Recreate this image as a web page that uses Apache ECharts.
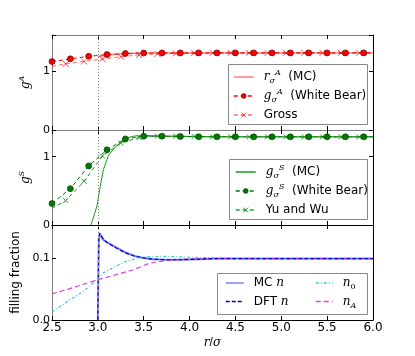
<!DOCTYPE html>
<html>
<head>
<meta charset="utf-8">
<script src="https://cdn.jsdelivr.net/npm/echarts@6/dist/echarts.min.js"></script>
<style>
  html, body { margin: 0; padding: 0; background: #fff; }
  #chart { width: 415px; height: 356px; }
</style>
</head>
<body>
<div id="chart"></div>
<script>
// x positions of the closure curves (markers every 0.2, lines run to 6.0)
const xWB = [2.5, 2.7, 2.9, 3.1, 3.3, 3.5, 3.7, 3.9, 4.1, 4.3, 4.5, 4.7, 4.9, 5.1, 5.3, 5.5, 5.7, 5.9, 6.0]
const xAlt = [2.5, 2.65, 2.85, 3.05, 3.25, 3.45, 3.65, 3.85, 4.05, 4.25, 4.45, 4.65, 4.85, 5.05, 5.25, 5.45, 5.65, 5.85, 6.0]

// panel 1: g^A
const xMC_A = [3.0, 3.05, 3.1, 3.2, 3.3, 3.4, 3.6, 3.8, 4.0, 4.5, 5.0, 5.5, 6.0]
const rA_MC = [1.25, 1.265, 1.278, 1.293, 1.303, 1.31, 1.314, 1.315, 1.315, 1.315, 1.315, 1.315, 1.315]
const gA_WB = [1.166, 1.213, 1.257, 1.286, 1.305, 1.312, 1.315, 1.315, 1.315, 1.315, 1.315, 1.315, 1.315, 1.315, 1.315, 1.315, 1.315, 1.315, 1.315]
const gA_Gross = [1.086, 1.127, 1.17, 1.21, 1.25, 1.28, 1.297, 1.307, 1.312, 1.314, 1.315, 1.315, 1.315, 1.315, 1.315, 1.315, 1.315, 1.315, 1.315]

// panel 2: g^S
const xMC_S = [2.924, 2.95, 2.99, 3.026, 3.06, 3.116, 3.19, 3.3, 3.39, 3.5, 3.7, 4.0, 4.5, 5.0, 5.5, 6.0]
const gS_MC = [0, 0.1, 0.28, 0.565, 0.81, 1.02, 1.14, 1.27, 1.30, 1.31, 1.30, 1.295, 1.29, 1.29, 1.29, 1.29]
const gS_WB = [0.314, 0.532, 0.865, 1.10, 1.26, 1.30, 1.30, 1.295, 1.29, 1.29, 1.29, 1.29, 1.29, 1.29, 1.29, 1.29, 1.29, 1.29, 1.29]
const gS_YW = [0.24, 0.358, 0.64, 1.01, 1.20, 1.28, 1.30, 1.30, 1.295, 1.29, 1.29, 1.29, 1.29, 1.29, 1.29, 1.29, 1.29, 1.29, 1.29]

// panel 3: filling fraction
const xN = [3.0, 3.01, 3.02, 3.06, 3.1, 3.2, 3.3, 3.4, 3.5, 3.6, 3.75, 3.9, 4.1, 4.3, 4.6, 5.0, 5.5, 6.0]
const n_MC = [0, 0.13, 0.139, 0.129, 0.125, 0.117, 0.109, 0.103, 0.100, 0.098, 0.097, 0.097, 0.098, 0.099, 0.099, 0.099, 0.099, 0.099]
const n_DFT = [0, 0.132, 0.14, 0.130, 0.125, 0.116, 0.108, 0.103, 0.100, 0.098, 0.097, 0.097, 0.098, 0.099, 0.099, 0.099, 0.099, 0.099]
const xN0 = [2.5, 2.6, 2.7, 2.81, 2.9, 3.0, 3.06, 3.19, 3.3, 3.42, 3.55, 3.75, 4.0, 4.3, 4.6, 5.0, 6.0]
const n_0 = [0.013, 0.023, 0.033, 0.043, 0.053, 0.067, 0.076, 0.086, 0.094, 0.099, 0.102, 0.1026, 0.101, 0.1, 0.099, 0.099, 0.099]
const xNA = [2.5, 2.75, 3.0, 3.2, 3.39, 3.57, 3.75, 3.97, 4.3, 5.0, 6.0]
const n_A = [0.042, 0.053, 0.065, 0.073, 0.081, 0.092, 0.096, 0.098, 0.099, 0.099, 0.099]

const contactR = 3.0
const yMax = [1.62, 1.39, 0.153]
const yTicks = [1, 1, 0.1]

const font = 'DejaVu Sans'
const gray = '#808080'
const crossPath = 'path://M0,0L10,10M10,0L0,10'

const mathRich = {
  m: { fontFamily: 'DejaVu Serif', fontStyle: 'italic', fontSize: 12, lineHeight: 16 },
  sup: { fontFamily: 'DejaVu Serif', fontStyle: 'italic', fontSize: 8, lineHeight: 8, verticalAlign: 'top' },
  sub: { fontFamily: 'DejaVu Serif', fontStyle: 'italic', fontSize: 8, lineHeight: 8, verticalAlign: 'bottom' },
  subr: { fontFamily: 'DejaVu Serif', fontSize: 8, lineHeight: 8, verticalAlign: 'bottom' }
}

const labels = {
  rA_MC: '{m|r}{sub|σ}{sup|A}  (MC)',
  gA_WB: '{m|g}{sub|σ}{sup|A}  (White Bear)',
  gA_Gross: 'Gross',
  gS_MC: '{m|g}{sub|σ}{sup|S}  (MC)',
  gS_WB: '{m|g}{sub|σ}{sup|S}  (White Bear)',
  gS_YW: 'Yu and Wu',
  n_MC: 'MC {m|n}',
  n_DFT: 'DFT {m|n}',
  n_0: '{m|n}{subr|0}',
  n_A: '{m|n}{sub|A}'
}
// series drawn as plain lines: no marker in their legend icon
const plainLines = ['rA_MC', 'gS_MC', 'n_MC', 'n_DFT', 'n_0', 'n_A']

// turn x/y arrays into points; markers dropped on the listed indices
function pts(xs, ys, noMark) {
  return xs.map((x, i) => noMark && noMark.includes(i) ? { value: [x, ys[i]], symbol: 'none' } : [x, ys[i]])
}

function series(name, g, data, opts) {
  return Object.assign({
    name: name,
    type: 'line',
    xAxisIndex: 2 * g,
    yAxisIndex: 2 * g,
    data: data,
    symbol: 'none',
    animation: false,
    z: 2
  }, opts)
}

const vLine = {
  silent: true,
  symbol: 'none',
  label: { show: false },
  lineStyle: { color: '#888', type: [1, 2], width: 1 },
  data: [{ xAxis: contactR }]
}

const edge = [
  { top: gray, bottom: gray },
  { top: gray, bottom: '#000' },
  { top: '#000', bottom: '#000' }
]
const tops = [35, 130, 225]

const grids = tops.map(t => ({ left: 52, right: 42, top: t, height: 95 }))

const xAxes = []
const yAxes = []
for (let g = 0; g < 3; g++) {
  ['bottom', 'top'].forEach(pos => {
    xAxes.push({
      type: 'value', gridIndex: g, position: pos, min: 2.5, max: 6, interval: 0.5,
      axisLine: { onZero: false, lineStyle: { color: edge[g][pos], width: 1 } },
      axisTick: { inside: true, length: 4, lineStyle: { color: '#000' } },
      axisLabel: {
        show: g === 2 && pos === 'bottom', margin: 2,
        fontFamily: font, fontSize: 12, color: '#000',
        formatter: v => v.toFixed(1)
      },
      splitLine: { show: false },
      name: g === 2 && pos === 'bottom' ? '{m|r}/{m|σ}' : '',
      nameLocation: 'middle', nameGap: 15,
      nameTextStyle: { color: '#000', rich: mathRich }
    })
  })
  const yName = ['{m|g}{sup|A}', '{m|g}{sup|S}', 'filling fraction'][g]
  ;['left', 'right'].forEach(pos => {
    yAxes.push({
      type: 'value', gridIndex: g, position: pos, min: 0, max: yMax[g], interval: yTicks[g],
      axisLine: { onZero: false, lineStyle: { color: pos === 'left' ? gray : '#000', width: 1 } },
      axisTick: { inside: true, length: 4, lineStyle: { color: '#000' } },
      axisLabel: {
        show: pos === 'left', margin: 2, fontFamily: font, fontSize: 11, color: '#000',
        formatter: v => {
          const k = v / yTicks[g]
          if (Math.abs(k - Math.round(k)) > 1e-6) return ''
          return g === 2 ? v.toFixed(1) : String(Math.round(v))
        }
      },
      splitLine: { show: false },
      name: pos === 'left' ? yName : '',
      nameLocation: 'middle', nameGap: g === 2 ? 13 : 9,
      nameTextStyle: { color: '#000', fontFamily: font, fontSize: 12, rich: mathRich }
    })
  })
}

const red = '#ff0000'
const green = '#007a00'

const allSeries = [
  series('rA_MC', 0, pts(xMC_A, rA_MC), {
    lineStyle: { color: 'rgba(255,0,0,0.5)', width: 1.5 }, itemStyle: { color: 'rgba(255,0,0,0.5)' }
  }),
  series('gA_WB', 0, pts(xWB, gA_WB, [18]), {
    symbol: 'circle', symbolSize: 6,
    lineStyle: { color: red, width: 1, type: [4, 3] },
    itemStyle: { color: red, borderColor: '#400', borderWidth: 0.6 },
    markLine: vLine, z: 3
  }),
  series('gA_Gross', 0, pts(xAlt, gA_Gross, [0, 18]), {
    symbol: crossPath, symbolSize: 6,
    lineStyle: { color: 'rgba(255,0,0,0.6)', width: 1, type: [4, 3] },
    itemStyle: { color: 'rgba(0,0,0,0)', borderColor: 'rgba(255,0,0,0.7)', borderWidth: 1 }
  }),
  series('gS_MC', 1, pts(xMC_S, gS_MC), {
    lineStyle: { color: '#1a9a1a', width: 1 }, itemStyle: { color: '#1a9a1a' }
  }),
  series('gS_WB', 1, pts(xWB, gS_WB, [18]), {
    symbol: 'circle', symbolSize: 6,
    lineStyle: { color: green, width: 1, type: [4, 3] },
    itemStyle: { color: green, borderColor: '#030', borderWidth: 0.6 },
    markLine: vLine, z: 3
  }),
  series('gS_YW', 1, pts(xAlt, gS_YW, [0, 18]), {
    symbol: crossPath, symbolSize: 5,
    lineStyle: { color: '#2a9a2a', width: 1, type: [4, 3] },
    itemStyle: { color: 'rgba(0,0,0,0)', borderColor: '#2a9a2a', borderWidth: 1 }
  }),
  series('n_MC', 2, pts(xN, n_MC), {
    lineStyle: { color: '#7f7fff', width: 2 }, itemStyle: { color: '#7f7fff' },
    markLine: vLine
  }),
  series('n_DFT', 2, pts(xN, n_DFT), {
    lineStyle: { color: '#0000cc', width: 1.2, type: [4, 2] }, itemStyle: { color: '#0000cc' }, z: 3
  }),
  series('n_0', 2, pts(xN0, n_0), {
    lineStyle: { color: '#33cccc', width: 1.2, type: [3, 2, 1, 2] }, itemStyle: { color: '#33cccc' }
  }),
  series('n_A', 2, pts(xNA, n_A), {
    lineStyle: { color: '#dd44dd', width: 1.2, type: [5, 3] }, itemStyle: { color: '#dd44dd' }
  })
]

function legendItem(n) {
  if (plainLines.includes(n)) return { name: n, itemStyle: { opacity: 0 } }
  const circle = n === 'gA_WB' || n === 'gS_WB'
  return { name: n, itemStyle: { borderWidth: circle ? 0.6 : 1 } }
}

function legend(names, left, top, itemWidth, gap) {
  return {
    data: names.map(legendItem),
    orient: 'vertical', left: left, top: top, padding: 0,
    itemWidth: itemWidth, itemHeight: 6, itemGap: gap, z: 6,
    selectedMode: false,
    lineStyle: { width: 1.5 },
    formatter: n => labels[n],
    textStyle: { fontFamily: font, fontSize: 12, color: '#000', lineHeight: 16, padding: [0, 0, 0, 5], rich: mathRich }
  }
}

function box(x, y, w, h) {
  return { type: 'rect', z: 5, shape: { x: x, y: y, width: w, height: h }, style: { fill: '#fff', stroke: '#888', lineWidth: 1 } }
}

const chart = echarts.init(document.getElementById('chart'), null, { renderer: 'canvas' })
chart.setOption({
  animation: false,
  backgroundColor: '#fff',
  grid: grids,
  xAxis: xAxes,
  yAxis: yAxes,
  legend: [
    legend(['rA_MC', 'gA_WB', 'gA_Gross'], 233, 69, 20, 3),
    legend(['gS_MC', 'gS_WB', 'gS_YW'], 235, 164, 20, 3),
    legend(['n_MC', 'n_DFT'], 225, 275, 18, 2.5),
    legend(['n_0', 'n_A'], 315, 275, 17, 2.5)
  ],
  graphic: [box(228.5, 64.5, 139, 60), box(229.5, 159.5, 138, 60), box(217.5, 273.5, 150, 41)],
  series: allSeries
})
</script>
</body>
</html>
